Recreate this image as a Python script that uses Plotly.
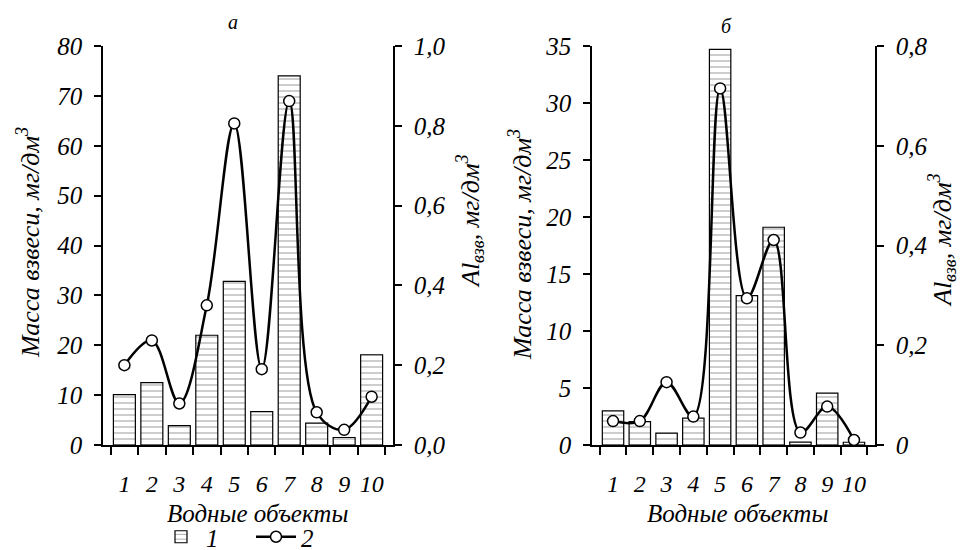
import plotly.graph_objects as go

categories = [str(i) for i in range(1, 11)]
mass_a = [10.1, 12.5, 3.9, 22.0, 32.8, 6.7, 74.0, 4.4, 1.5, 18.1]
al_a = [0.20, 0.262, 0.104, 0.35, 0.806, 0.19, 0.862, 0.082, 0.038, 0.121]
mass_b = [3.0, 2.05, 1.05, 2.35, 34.7, 13.1, 19.1, 0.26, 4.55, 0.24]
al_b = [0.048, 0.048, 0.126, 0.057, 0.715, 0.294, 0.411, 0.025, 0.077, 0.01]

left_ticks_a = [0, 10, 20, 30, 40, 50, 60, 70, 80]
right_ticks_a = [0.0, 0.2, 0.4, 0.6, 0.8, 1.0]
right_text_a = ["0,0", "0,2", "0,4", "0,6", "0,8", "1,0"]
left_ticks_b = [0, 5, 10, 15, 20, 25, 30, 35]
right_ticks_b = [0, 0.2, 0.4, 0.6, 0.8]
right_text_b = ["0", "0,2", "0,4", "0,6", "0,8"]

FAM = "Liberation Serif"
W, H = 961, 550


def fx(px):
    return px / W


def fy(py):
    return 1 - py / H


def ifont(size):
    return dict(family=FAM, size=size, color="black", style="italic")


bar_style = dict(
    color="white",
    line=dict(color="black", width=1.2),
    pattern=dict(shape="-", fgcolor="#444", bgcolor="white", size=6, solidity=0.18),
)
line_style = dict(color="black", width=2.5, shape="spline", smoothing=1.0)
marker_style = dict(symbol="circle", size=11, color="white", line=dict(color="black", width=1.5))

fig = go.Figure()
fig.add_trace(go.Bar(x=categories, y=mass_a, marker=bar_style, width=0.8, name="1",
                     xaxis="x", yaxis="y", showlegend=True))
fig.add_trace(go.Scatter(x=categories, y=al_a, mode="lines+markers", line=line_style,
                         marker=marker_style, name="2", xaxis="x", yaxis="y2", showlegend=True))
fig.add_trace(go.Bar(x=categories, y=mass_b, marker=bar_style, width=0.8, name="1",
                     xaxis="x2", yaxis="y3", showlegend=False))
fig.add_trace(go.Scatter(x=categories, y=al_b, mode="lines+markers", line=line_style,
                         marker=marker_style, name="2", xaxis="x2", yaxis="y4", showlegend=False))

dom_y = [fy(445), fy(46)]
xax = dict(type="category", showline=True, linecolor="black", linewidth=1.5,
           tickmode="array", tickvals=categories, ticktext=categories,
           ticks="outside", tickson="boundaries", ticklen=8, tickwidth=1.5, tickcolor="black",
           tickfont=ifont(24), tickangle=0, ticklabelstandoff=16,
           showgrid=False, zeroline=False, automargin=False)
yax = dict(showline=True, linecolor="black", linewidth=1.5, ticks="outside", ticklen=7,
           tickwidth=1.5, tickcolor="black", tickfont=ifont(25), ticklabelstandoff=7,
           showgrid=False, zeroline=False, automargin=False)

fig.update_layout(
    width=W, height=H,
    margin=dict(l=0, r=0, t=0, b=0, autoexpand=False),
    paper_bgcolor="white", plot_bgcolor="rgba(0,0,0,0)",
    bargap=0.2,
    xaxis=dict(xax, domain=[fx(103), fx(393)], anchor="y"),
    yaxis=dict(yax, domain=dom_y, range=[0, 80], tickvals=left_ticks_a, anchor="x"),
    yaxis2=dict(yax, range=[0, 1.0], tickvals=right_ticks_a, ticktext=right_text_a,
                overlaying="y", side="right", anchor="x"),
    xaxis2=dict(xax, domain=[fx(592), fx(875)], anchor="y3"),
    yaxis3=dict(yax, domain=dom_y, range=[0, 35], tickvals=left_ticks_b, anchor="x2"),
    yaxis4=dict(yax, range=[0, 0.8], tickvals=right_ticks_b, ticktext=right_text_b,
                overlaying="y3", side="right", anchor="x2"),
    legend=dict(orientation="h", x=fx(156), y=fy(537), yanchor="middle", xanchor="left",
                font=ifont(25), bgcolor="rgba(0,0,0,0)", itemwidth=40, entrywidth=40,
                tracegroupgap=0),
    showlegend=True,
)

ann = [
    dict(text="а", x=fx(233), y=fy(22), font=ifont(20)),
    dict(text="б", x=fx(726), y=fy(26), font=ifont(20)),
    dict(text="Водные объекты", x=fx(257), y=fy(513), font=ifont(25)),
    dict(text="Водные объекты", x=fx(737), y=fy(513), font=ifont(25)),
    dict(text="Масса взвеси, мг/дм<sup>3</sup>", x=fx(28), y=fy(243), font=ifont(26), textangle=-90),
    dict(text="Масса взвеси, мг/дм<sup>3</sup>", x=fx(520), y=fy(245), font=ifont(26), textangle=-90),
    dict(text="Al<sub>взв</sub>, мг/дм<sup>3</sup>", x=fx(470), y=fy(221), font=ifont(26), textangle=-90),
    dict(text="Al<sub>взв</sub>, мг/дм<sup>3</sup>", x=fx(942), y=fy(240), font=ifont(26), textangle=-90),
]
for a in ann:
    a.update(xref="paper", yref="paper", showarrow=False, xanchor="center", yanchor="middle")
fig.update_layout(annotations=ann)

fig.write_html("out.html")
